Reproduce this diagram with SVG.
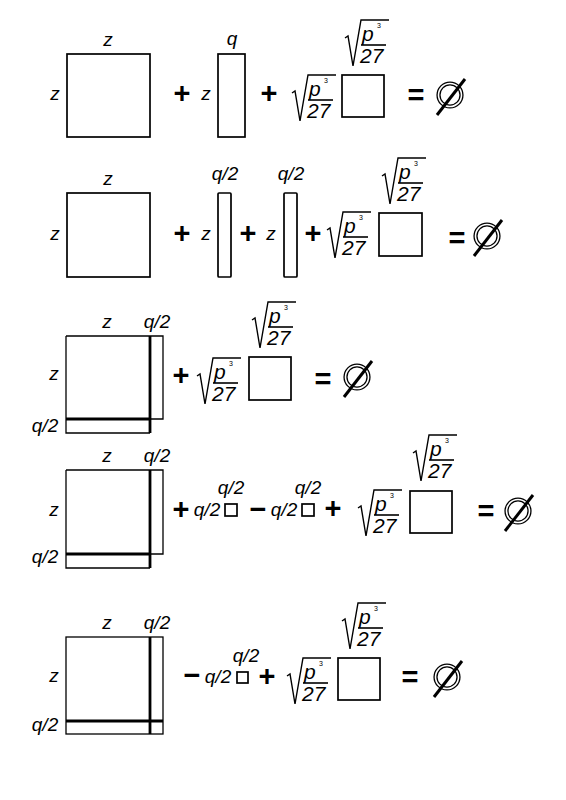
<svg xmlns="http://www.w3.org/2000/svg" xmlns:xlink="http://www.w3.org/1999/xlink" width="566" height="800" viewBox="0 0 566 800">
<style>
.t{font-family:"Liberation Sans",Arial,sans-serif;font-style:italic;font-size:19px;fill:#000}
.m{text-anchor:middle}
.op{font-family:"Liberation Sans",Arial,sans-serif;font-weight:bold;font-size:29px;text-anchor:middle;fill:#000}
.fr{font-family:"Liberation Sans",Arial,sans-serif;font-style:italic;font-size:21px;fill:#000}
.sup{font-family:"Liberation Sans",Arial,sans-serif;font-size:7px;fill:#000}
.box{fill:none;stroke:#000;stroke-width:1.7}
.thin{fill:none;stroke:#000;stroke-width:1.3}
.thick{fill:none;stroke:#000;stroke-width:2.8}
.rad{fill:none;stroke:#000;stroke-width:1.4;stroke-linejoin:miter}
.bar{stroke:#000;stroke-width:1.6}
</style>
<defs>
<g id="radical">
<path class="rad" d="M0,18 L3,16 L8,46 L16,0 L44,0"/>
<line class="bar" x1="16" y1="25" x2="41" y2="25"/>
</g>
<g id="empty">
<circle r="11.5" fill="none" stroke="#000" stroke-width="4.2"/>
<circle r="11.5" fill="none" stroke="#fff" stroke-width="1.6"/>
<line x1="-13" y1="20" x2="15" y2="-16" stroke="#000" stroke-width="3"/>
</g>
</defs>

<!-- Row 1 -->
<g id="row1">
<rect class="box" x="67" y="54" width="83" height="83"/>
<text class="t m" x="108" y="46">z</text>
<text class="t m" x="55" y="100">z</text>
<text class="op" x="182" y="103">+</text>
<text class="t m" x="206" y="100">z</text>
<rect class="box" x="218" y="54" width="27" height="83"/>
<text class="t m" x="232" y="45">q</text>
<text class="op" x="269" y="103">+</text>
<g transform="translate(292,75)"><use xlink:href="#radical"/><text class="fr" x="17" y="21">p</text><text class="sup" x="32" y="8">3</text><text class="fr" x="15" y="43">27</text></g>
<rect class="box" x="342" y="75" width="42" height="42"/>
<g transform="translate(345,20)"><use xlink:href="#radical"/><text class="fr" x="17" y="21">p</text><text class="sup" x="32" y="8">3</text><text class="fr" x="15" y="43">27</text></g>
<text class="op" x="416" y="105">=</text>
<use xlink:href="#empty" x="450" y="95"/>
</g>

<!-- Row 2 -->
<g id="row2">
<rect class="box" x="67" y="193" width="83" height="84"/>
<text class="t m" x="108" y="185">z</text>
<text class="t m" x="55" y="240">z</text>
<text class="op" x="182" y="243">+</text>
<text class="t m" x="206" y="240">z</text>
<rect class="box" x="218" y="193" width="13" height="84" rx="1"/>
<text class="t m" x="225" y="180">q/2</text>
<text class="op" x="248" y="243">+</text>
<text class="t m" x="271" y="240">z</text>
<rect class="box" x="284" y="193" width="13" height="84" rx="1"/>
<text class="t m" x="291" y="180">q/2</text>
<text class="op" x="313" y="243">+</text>
<g transform="translate(327,212)"><use xlink:href="#radical"/><text class="fr" x="17" y="21">p</text><text class="sup" x="32" y="8">3</text><text class="fr" x="15" y="43">27</text></g>
<rect class="box" x="379" y="213" width="43" height="43"/>
<g transform="translate(382,158)"><use xlink:href="#radical"/><text class="fr" x="17" y="21">p</text><text class="sup" x="32" y="8">3</text><text class="fr" x="15" y="43">27</text></g>
<text class="op" x="457" y="248">=</text>
<use xlink:href="#empty" x="487" y="236"/>
</g>

<!-- Row 3 -->
<g id="row3">
<path class="thin" d="M66,336 H163 V419 H150 M66,336 V433 H150"/>
<path class="thick" d="M150,336 V433 M66,419 H150"/>
<text class="t m" x="107" y="328">z</text>
<text class="t m" x="157" y="328">q/2</text>
<text class="t m" x="54" y="380">z</text>
<text class="t m" x="45" y="432">q/2</text>
<text class="op" x="181" y="385">+</text>
<g transform="translate(197,358)"><use xlink:href="#radical"/><text class="fr" x="17" y="21">p</text><text class="sup" x="32" y="8">3</text><text class="fr" x="15" y="43">27</text></g>
<rect class="box" x="249" y="357" width="42" height="43"/>
<g transform="translate(252,302)"><use xlink:href="#radical"/><text class="fr" x="17" y="21">p</text><text class="sup" x="32" y="8">3</text><text class="fr" x="15" y="43">27</text></g>
<text class="op" x="323" y="389">=</text>
<use xlink:href="#empty" x="357" y="377"/>
</g>

<!-- Row 4 -->
<g id="row4">
<path class="thin" d="M66,470 H163 V554 H150 M66,470 V568 H150"/>
<path class="thick" d="M150,470 V568 M66,554 H150"/>
<text class="t m" x="107" y="462">z</text>
<text class="t m" x="157" y="462">q/2</text>
<text class="t m" x="54" y="516">z</text>
<text class="t m" x="45" y="563">q/2</text>
<text class="op" x="181" y="519">+</text>
<text class="t m" x="207" y="516">q/2</text>
<rect class="box" x="225" y="504" width="12" height="12"/>
<text class="t m" x="231" y="494">q/2</text>
<text class="op" x="258" y="519">−</text>
<text class="t m" x="284" y="516">q/2</text>
<rect class="box" x="302" y="504" width="12" height="12"/>
<text class="t m" x="308" y="494">q/2</text>
<text class="op" x="333" y="518">+</text>
<g transform="translate(358,490)"><use xlink:href="#radical"/><text class="fr" x="17" y="21">p</text><text class="sup" x="32" y="8">3</text><text class="fr" x="15" y="43">27</text></g>
<rect class="box" x="410" y="491" width="42" height="42"/>
<g transform="translate(413,435)"><use xlink:href="#radical"/><text class="fr" x="17" y="21">p</text><text class="sup" x="32" y="8">3</text><text class="fr" x="15" y="43">27</text></g>
<text class="op" x="486" y="521">=</text>
<use xlink:href="#empty" x="518" y="511"/>
</g>

<!-- Row 5 -->
<g id="row5">
<rect class="thin" x="66" y="637" width="97" height="97"/>
<path class="thick" d="M150,637 V734 M66,721 H163"/>
<text class="t m" x="107" y="629">z</text>
<text class="t m" x="157" y="629">q/2</text>
<text class="t m" x="54" y="682">z</text>
<text class="t m" x="45" y="731">q/2</text>
<text class="op" x="192" y="685">−</text>
<text class="t m" x="218" y="683">q/2</text>
<rect class="box" x="237" y="672" width="11" height="11"/>
<text class="t m" x="246" y="662">q/2</text>
<text class="op" x="267" y="686">+</text>
<g transform="translate(287,658)"><use xlink:href="#radical"/><text class="fr" x="17" y="21">p</text><text class="sup" x="32" y="8">3</text><text class="fr" x="15" y="43">27</text></g>
<rect class="box" x="338" y="658" width="42" height="42"/>
<g transform="translate(342,603)"><use xlink:href="#radical"/><text class="fr" x="17" y="21">p</text><text class="sup" x="32" y="8">3</text><text class="fr" x="15" y="43">27</text></g>
<text class="op" x="410" y="687">=</text>
<use xlink:href="#empty" x="447" y="677"/>
</g>
</svg>
